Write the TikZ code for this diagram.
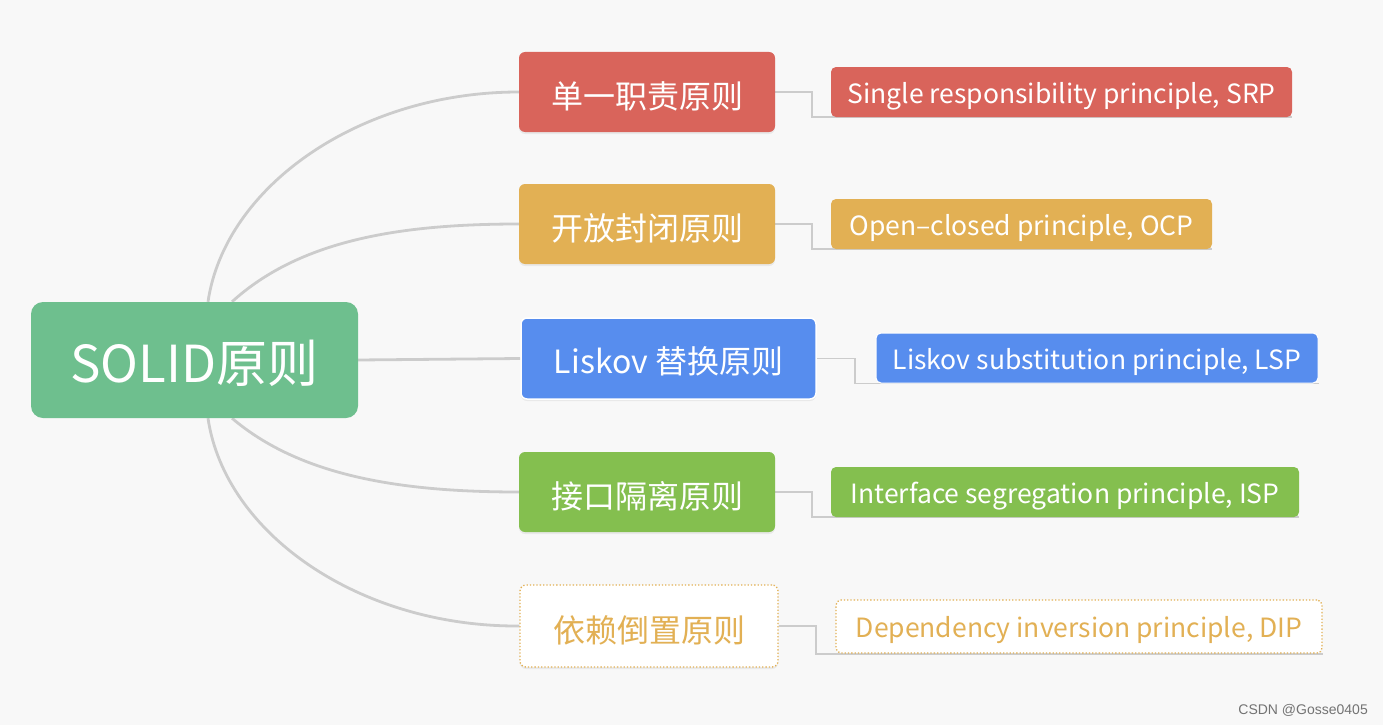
\documentclass[tikz,border=0pt]{standalone}
\usepackage{fontspec}
\setmainfont{Noto Sans CJK SC}
\newfontfamily\wmfont{Liberation Sans}
\usetikzlibrary{calc,shadows}
\pgfdeclarelayer{bgl}
\pgfdeclarelayer{back}
\pgfsetlayers{bgl,back,main}
\definecolor{bg}{HTML}{F8F8F8}
\definecolor{cgreen}{HTML}{6EBF8E}
\definecolor{cred}{HTML}{D9645B}
\definecolor{corange}{HTML}{E2B054}
\definecolor{cblue}{HTML}{578DEE}
\definecolor{clime}{HTML}{84BF4F}
\definecolor{cline}{HTML}{CCCCCC}
\begin{document}
\begin{tikzpicture}[x=1pt,y=-1pt,
  conn/.style={draw=cline,line width=2.8pt},
  sconn/.style={draw=cline,line width=1.8pt},
  midbox/.style={rounded corners=6pt,minimum width=256pt,minimum height=80pt,inner sep=0pt,drop shadow={shadow xshift=0pt,shadow yshift=-2pt,opacity=0.12}},
  rbox/.style={rounded corners=5pt,minimum height=50pt,inner sep=0pt},
  midtxt/.style={anchor=base,inner sep=0pt,text=white,font=\fontsize{32}{36}\selectfont},
  rtxt/.style={anchor=base,inner sep=0pt,text=white,font=\fontsize{26.5}{30}\selectfont},
]
\begin{pgfonlayer}{bgl}
\fill[bg] (0,0) rectangle (1383,725);
\end{pgfonlayer}
\useasboundingbox (0,0) rectangle (1383,725);

% root
\node[fill=cgreen,rounded corners=12pt,minimum width=327pt,minimum height=116pt,inner sep=0pt] (root) at (194.5,360) {};
\node[anchor=base,inner sep=0pt,text=white,font=\fontsize{51}{60}\selectfont] (roott) at ($(root.center)+(0,22)$) {SOLID原则};

% middle nodes
\node[midbox,fill=cred] (m1) at (647,92) {};
\node[midbox,fill=corange] (m2) at (647,224) {};
\node[midbox,fill=cblue,draw=white,line width=1.5pt,minimum width=295pt,minimum height=81pt] (m3) at (668.5,358.5) {};
\node[midbox,fill=clime] (m4) at (647,492) {};
\node[midbox,fill=white,draw=corange,dotted,line width=1.3pt,minimum width=258pt,minimum height=82pt] (m5) at (649,626) {};

\node[midtxt] (t1) at ($(m1.center)+(0,16)$) {单一职责原则};
\node[midtxt] (t2) at ($(m2.center)+(0,16)$) {开放封闭原则};
\node[midtxt] (t3) at ($(m3.center)+(0,15)$) {Liskov 替换原则};
\node[midtxt] (t4) at ($(m4.center)+(0,16)$) {接口隔离原则};
\node[midtxt,text=corange] (t5) at ($(m5.center)+(0,16)$) {依赖倒置原则};

% right nodes
\node[rbox,fill=cred,minimum width=461pt] (r1) at (1061.5,92) {};
\node[rbox,fill=corange,minimum width=381pt] (r2) at (1021.5,224) {};
\node[rbox,fill=cblue,draw=white,line width=1pt,minimum width=442pt] (r3) at (1097,358) {};
\node[rbox,fill=clime,minimum width=468pt] (r4) at (1065,492) {};
\node[rbox,fill=white,draw=corange,dotted,line width=1.3pt,minimum width=486pt,minimum height=53pt] (r5) at (1079,626.5) {};

\node[rtxt] (s1) at ($(r1.center)+(0,11)$) {Single responsibility principle, SRP};
\node[rtxt] (s2) at ($(r2.center)+(0,11)$) {Open–closed principle, OCP};
\node[rtxt] (s3) at ($(r3.center)+(0,11)$) {Liskov substitution principle, LSP};
\node[rtxt] (s4) at ($(r4.center)+(0,11)$) {Interface segregation principle, ISP};
\node[rtxt,text=corange] (s5) at ($(r5.center)+(0,11)$) {Dependency inversion principle, DIP};

\begin{pgfonlayer}{back}
\draw[conn] ($(root.north)+(13.5,0)$) .. controls (225,186) and (360,92) .. (m1.west);
\draw[conn] ($(root.north)+(37.5,0)$) .. controls (300,240) and (400,224) .. (m2.west);
\draw[conn] (root.east) -- (m3.west);
\draw[conn] ($(root.south)+(37.5,0)$) .. controls (300,476) and (400,492) .. (m4.west);
\draw[conn] ($(root.south)+(13.5,0)$) .. controls (225,534) and (360,627) .. (m5.west);

\draw[sconn] (m1.east) -- ++(37,0) |- (r1.south east);
\draw[sconn] (m2.east) -- ++(37,0) |- (r2.south east);
\draw[sconn] (m3.east) -- ++(38,0) |- (r3.south east);
\draw[sconn] (m4.east) -- ++(37,0) |- (r4.south east);
\draw[sconn] (m5.east) -- ++(37,0) |- (r5.south east);
\end{pgfonlayer}

\node[anchor=east,text=black!55,font=\wmfont\fontsize{14}{16}\selectfont,inner sep=0pt] (wm) at (1368,710) {CSDN @Gosse0405};
\end{tikzpicture}
\end{document}
